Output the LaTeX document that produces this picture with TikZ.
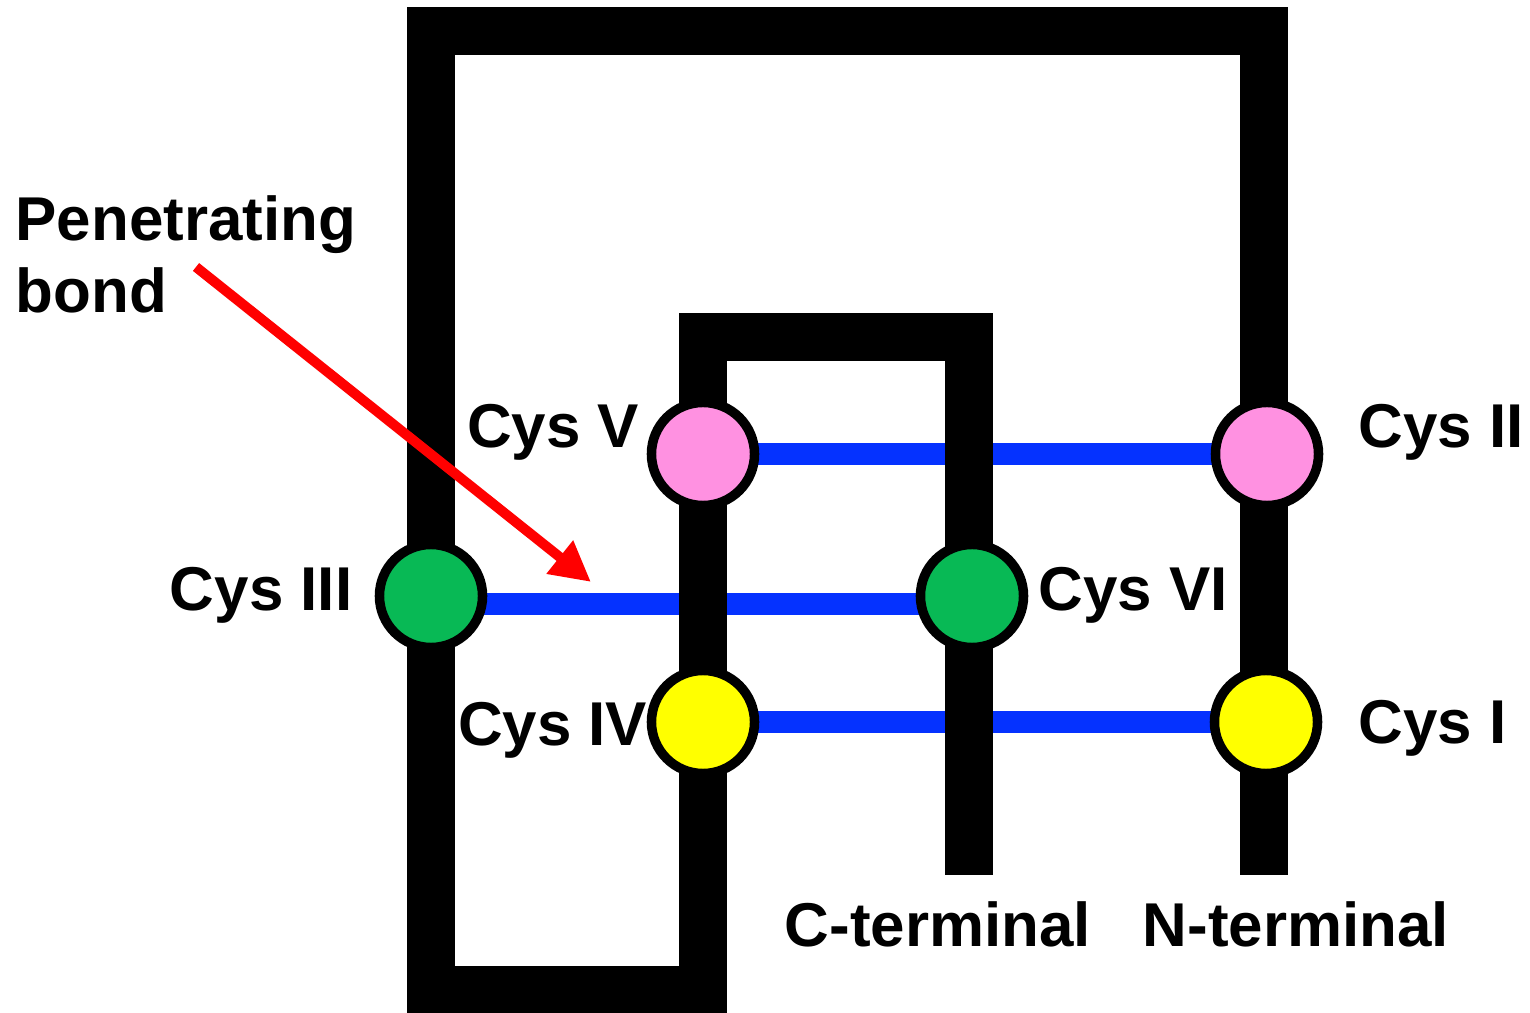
\documentclass[tikz,border=0pt]{standalone}
\usepackage{fontspec}
\setsansfont{Liberation Sans}
\usepackage{xcolor}
\usepackage{tikz}
\usetikzlibrary{arrows.meta,calc,positioning,backgrounds}

\definecolor{cyspink}{RGB}{255,145,225}
\definecolor{cysgreen}{RGB}{8,185,85}
\definecolor{cysyellow}{RGB}{255,255,0}
\definecolor{ssblue}{RGB}{5,50,255}

\begin{document}
\begin{tikzpicture}[>=Stealth,x=0.01cm,y=-0.01cm,
  cys/.style={circle,draw=black,line width=0.95mm,minimum size=1.03cm,inner sep=0},
  lbl/.style={inner sep=0,font=\fontsize{17.6pt}{20.5pt}\selectfont\sffamily\bfseries},
  ssbond/.style={ssblue,line width=2.2mm},
  backbone/.style={black,line width=4.8mm,line join=miter,line cap=butt},
  pointer/.style={-{Triangle[length=4mm,width=4mm]},red,line width=1mm}]
\useasboundingbox (0,0) rectangle (1530,1013);
% cysteines
\node[cys,fill=cyspink] (c5) at (703,454) {};
\node[cys,fill=cyspink] (c2) at (1267,454) {};
\node[cys,fill=cysgreen] (c3) at (431,596) {};
\node[cys,fill=cysgreen] (c6) at (972,596) {};
\node[cys,fill=cysyellow] (c4) at (703,722) {};
\node[cys,fill=cysyellow] (c1) at (1266,722) {};
\node[lbl,anchor=base east] (l5) at (640,448) {Cys V};
\node[lbl,anchor=base west] (l2) at (1358,448) {Cys II};
\node[lbl,anchor=base east] (l3) at (353,611) {Cys III};
\node[lbl,anchor=base west] (l6) at (1038,611) {Cys VI};
\node[lbl,anchor=base east] (l4) at (648,746) {Cys IV};
\node[lbl,anchor=base west] (l1) at (1358,744) {Cys I};
\node[lbl,anchor=base] (cterm) at (938,946) {C-terminal};
\node[lbl,anchor=base] (nterm) at (1296,946) {N-terminal};
\node[lbl,anchor=north west,align=left] (pen) at (15,195) {Penetrating\\bond};
\coordinate (tail) at (196,267);
\coordinate (tip) at (591,582);
\draw[pointer] (tail) -- (tip);
\begin{pgfonlayer}{background}
% disulfide bonds, then the chain over them
\draw[ssbond] (c5.center) -- (c2.center);
\draw[ssbond] ([yshift=-0.8mm]c3.center) -- ([yshift=-0.8mm]c6.center);
\draw[ssbond] (c4.center) -- (c1.center);
\draw[backbone] (1264,875) -- (1264,31) -- (431,31) -- (431,990) -- (703,990) -- (703,337) -- (969,337) -- (969,875);
\end{pgfonlayer}
\end{tikzpicture}
\end{document}
